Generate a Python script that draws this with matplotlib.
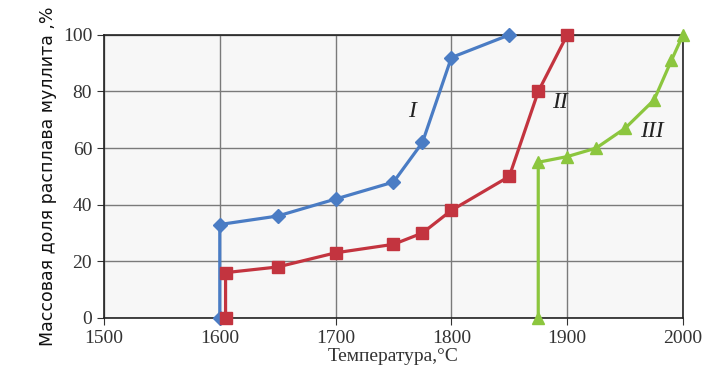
import matplotlib.pyplot as plt

# данные
t_I = [1600, 1600, 1650, 1700, 1750, 1775, 1800, 1850]
m_I = [0, 33, 36, 42, 48, 62, 92, 100]

t_II = [1605, 1605, 1650, 1700, 1750, 1775, 1800, 1850, 1875, 1900]
m_II = [0, 16, 18, 23, 26, 30, 38, 50, 80, 100]

t_III = [1875, 1875, 1900, 1925, 1950, 1975, 1990, 2000]
m_III = [0, 55, 57, 60, 67, 77, 91, 100]

labels = ['I', 'II', 'III']
label_pos = [(1766, 73), (1894, 76), (1973, 66)]

xticks = [1500, 1600, 1700, 1800, 1900, 2000]
yticks = [0, 20, 40, 60, 80, 100]

fig = plt.figure(figsize=(7.22, 3.92), dpi=100)
ax = fig.add_axes([0.144, 0.189, 0.802, 0.722])
ax.set_facecolor('#f7f7f7')

ax.plot(t_I, m_I, color='#4a7cc4', lw=2.3, marker='D', ms=7, zorder=3, clip_on=False)
ax.plot(t_II, m_II, color='#c3343f', lw=2.3, marker='s', ms=9, zorder=3, clip_on=False)
ax.plot(t_III, m_III, color='#8cc63e', lw=2.3, marker='^', ms=9, zorder=3, clip_on=False)

for lab, (x, y) in zip(labels, label_pos):
    ax.text(x, y, lab, fontsize=17, family='Liberation Serif', style='italic',
            ha='center', va='center', color='#222222')

ax.set_xlim(1500, 2000)
ax.set_ylim(0, 100)
ax.set_xticks(xticks)
ax.set_yticks(yticks)
ax.grid(True, color='#7a7a7a', lw=1.0)
ax.set_axisbelow(True)
for s in ax.spines.values():
    s.set_color('#222222')
    s.set_linewidth(1.2)
ax.tick_params(direction='out', length=5, color='#333333', labelsize=14)
for lbl in ax.get_xticklabels() + ax.get_yticklabels():
    lbl.set_family('Liberation Serif')
    lbl.set_color('#333333')

ax.set_xlabel('Температура,°C', family='Liberation Serif', fontsize=14, color='#333333', labelpad=1)
ax.set_ylabel('Массовая доля расплава муллита ,%', fontsize=12.5, color='#111111', labelpad=4)

fig.savefig('out.png', dpi=100)
